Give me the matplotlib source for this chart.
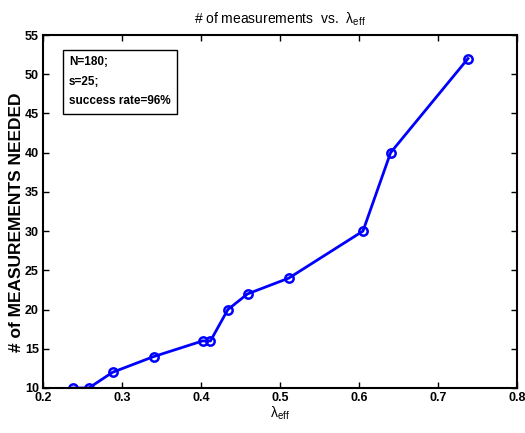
import matplotlib
matplotlib.use("Agg")
import matplotlib.pyplot as plt

plt.rcParams['font.family'] = ['Liberation Sans', 'DejaVu Sans']
plt.rcParams['mathtext.default'] = 'regular'

# lambda_eff values and number of measurements needed
lambda_eff = [0.238, 0.258, 0.288, 0.340, 0.402, 0.412, 0.434, 0.459, 0.511, 0.605, 0.640, 0.738]
n_meas = [10, 10, 12, 14, 16, 16, 20, 22, 24, 30, 40, 52]

x_ticks = [0.2, 0.3, 0.4, 0.5, 0.6, 0.7, 0.8]
y_ticks = [10, 15, 20, 25, 30, 35, 40, 45, 50, 55]

fig = plt.figure(figsize=(5.25, 4.33), dpi=100)
ax = fig.add_axes([43/525, 45/433, 474/525, 353/433])

ax.plot(lambda_eff, n_meas, color='#0000ff', linewidth=2,
        marker='o', markersize=6, markerfacecolor='none',
        markeredgewidth=1.8, markeredgecolor='#0000ff')

ax.set_xlim(0.2, 0.8)
ax.set_ylim(10, 55)
ax.set_xticks(x_ticks)
ax.set_xticklabels(['0.2', '0.3', '0.4', '0.5', '0.6', '0.7', '0.8'])
ax.set_yticks(y_ticks)
for lab in ax.get_xticklabels() + ax.get_yticklabels():
    lab.set_fontweight('bold')
    lab.set_fontsize(9)
ax.tick_params(direction='in', length=4, width=1, top=True, right=True, pad=3)
for sp in ax.spines.values():
    sp.set_linewidth(1.5)

ax.set_xlabel(r'$\lambda_{eff}$', fontsize=10, labelpad=0)
ax.set_ylabel('# of MEASUREMENTS NEEDED', fontsize=12.5, fontweight='bold')
ax.yaxis.set_label_coords(-0.04, 0.47)
ax.set_title(r'# of measurements  vs.  $\lambda_{eff}$', fontsize=10, pad=8)

ax.text(0.055, 0.94, 'N=180;\ns=25;\nsuccess rate=96%', transform=ax.transAxes,
        fontsize=8.5, fontweight='bold', va='top', ha='left', linespacing=1.85,
        bbox=dict(boxstyle='square,pad=0.55', facecolor='white', edgecolor='black', linewidth=1))

fig.savefig('out.png', dpi=100)
